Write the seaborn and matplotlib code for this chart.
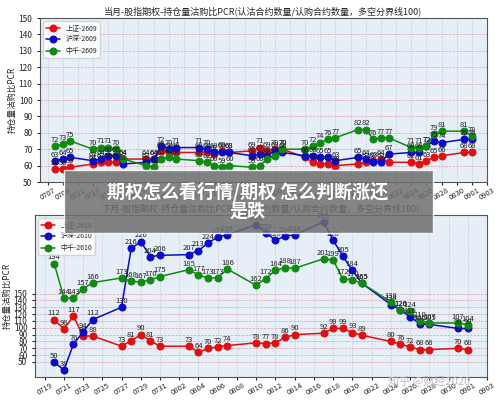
import matplotlib
matplotlib.use("Agg")
import matplotlib.pyplot as plt
import seaborn as sns
import pandas as pd
import numpy as np

sns.set_style("ticks")
plt.rcParams['font.family'] = ['Noto Sans CJK SC', 'DejaVu Sans']

top_dates = ["0708","0709","0710","0713","0714","0715","0716","0717","0720","0721","0722","0723","0724",
             "0727","0728","0729","0730","0731","0803","0804","0805","0806","0807","0810","0811","0812","0813","0814",
             "0817","0818","0819","0820","0821","0824","0825","0826","0827","0828","0831","0901"]
top_red = [58,58,59,61,62,62,62,64,64,64,69,68,68,68,68,67,69,68,69,71,69,70,70,65,62,61,61,60,61,62,63,64,62,62,61,63,65,66,68,68]
top_blue = [63,64,65,63,64,66,66,61,62,64,72,70,71,71,70,68,68,68,66,67,66,69,68,66,66,65,65,63,65,64,62,62,67,68,68,72,75,74,76,76]
top_green = [72,73,75,70,71,71,70,64,60,59,64,65,64,63,62,60,59,60,59,60,64,66,70,70,72,74,76,77,82,82,76,77,77,71,71,72,79,81,81,78]

bot_dates = ["0720","0721","0722","0723","0724","0727","0728","0729","0730","0731","0803","0804","0805","0806","0807",
             "0810","0811","0812","0813","0814","0817","0818","0819","0820","0821","0824","0825","0826","0827","0828","0831","0901"]
bot_red = [112,98,117,88,88,73,81,90,81,73,73,64,70,72,74,78,77,78,86,90,92,99,99,93,89,80,76,72,68,68,70,68]
bot_blue = [50,38,76,94,112,130,216,226,204,206,207,213,224,233,236,251,239,228,234,236,255,228,205,184,165,134,126,116,106,105,99,99]
bot_green = [194,144,143,157,166,173,168,167,170,175,185,177,173,173,186,162,172,184,188,187,201,199,172,170,165,138,126,124,110,107,107,104]

def todate(s):
    return pd.Timestamp(2020, int(s[:2]), int(s[2:]))

fig = plt.figure(figsize=(5, 4.03), dpi=100)
ax1 = fig.add_axes([40/500, 1-182/403, 447/500, 164/403])
ax2 = fig.add_axes([35/500, 1-377/403, 452/500, 162/403])

cols = ['#e01010', '#0a0ac8', '#108a10']

def draw(ax, dates, series, names, title, ylim, yticks, start, end):
    x = [todate(d) for d in dates]
    for vals, name, c in zip(series, names, cols):
        df = pd.DataFrame({'x': x, 'y': vals})
        sns.lineplot(data=df, x='x', y='y', ax=ax, color=c, marker='o', markersize=5,
                     markeredgecolor=c, linewidth=1.1, label=name)
        for xi, yi in zip(x, vals):
            ax.annotate(str(yi), (xi, yi), xytext=(0, 3), textcoords='offset points',
                        ha='center', fontsize=5.5, color='#222')
    ax.set_facecolor('#e6eff8')
    ax.set_ylim(*ylim)
    ax.set_yticks(yticks)
    ticks = pd.date_range(todate(start), todate(end), freq='2D')
    ax.set_xticks(ticks)
    ax.set_xticklabels([t.strftime('%m%d') for t in ticks], rotation=30, fontsize=5.5)
    ax.set_xlim(todate(start) - pd.Timedelta(days=1), todate(end))
    ax.tick_params(axis='y', labelsize=6, length=2)
    ax.tick_params(axis='x', length=2, pad=1)
    ax.set_xlabel('')
    ax.set_ylabel('持仓量沽购比PCR', fontsize=6, labelpad=1)
    ax.set_title(title, fontsize=6.5, pad=3)
    ax.yaxis.grid(True, color='#e0a0a8', linestyle='--', linewidth=0.5)
    ax.xaxis.grid(True, color='#b8b8c8', linestyle=':', linewidth=0.6)
    for s in ax.spines.values():
        s.set_color('#555')
    leg = ax.legend(loc='upper left', fontsize=5, frameon=True)
    leg.get_frame().set_edgecolor('#ccc')

draw(ax1, top_dates, [top_red, top_blue, top_green], ['上证-2609', '沪深-2609', '中千-2609'],
     '当月-股指期权-持仓量沽购比PCR(认沽合约数量/认购合约数量，多空分界线100)',
     (50, 150), range(50, 151, 10), '0707', '0903')
draw(ax2, bot_dates, [bot_red, bot_blue, bot_green], ['上证-2610', '沪深-2610', '中千-2610'],
     '下月-股指期权-持仓量沽购比PCR(认沽合约数量/认购合约数量，多空分界线100)',
     (28, 265), range(50, 151, 10), '0719', '0903')

fig.patches.append(plt.Rectangle((64/500, 1-233/403), 369/500, 63/403, transform=fig.transFigure,
                                 facecolor='#6e6e6e', alpha=0.85, zorder=10))
fig.text(248/500, 1-201/403, '期权怎么看行情/期权 怎么判断涨还\n是跌', ha='center', va='center',
         color='white', fontsize=13, fontweight='bold', linespacing=1.0, zorder=11)
fig.text(470/500, 1-381/403, '知乎 @财经2020', ha='right', va='center', color='#bbbbbb', fontsize=8, zorder=11)

fig.savefig('out.png', dpi=100)
